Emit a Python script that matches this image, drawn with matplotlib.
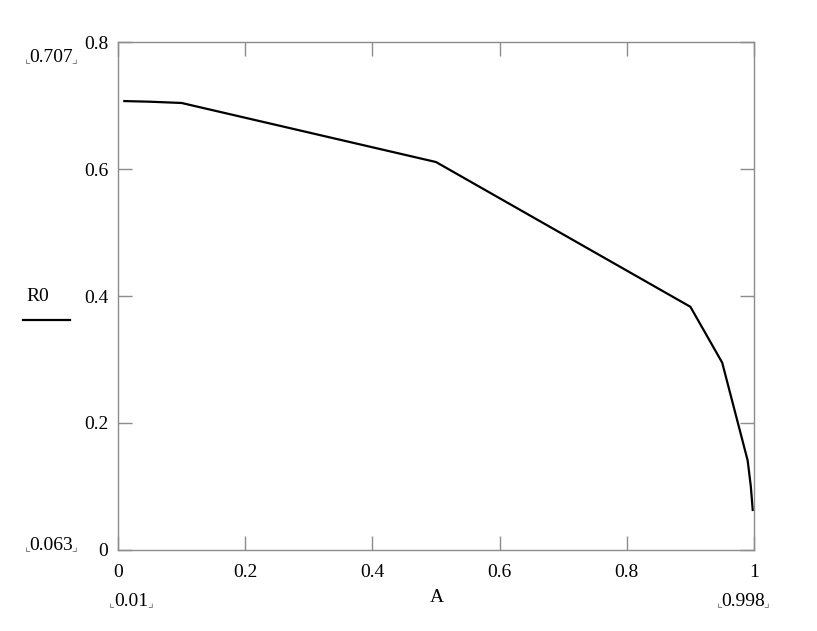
import matplotlib.pyplot as plt

# значення кривої R0(A)
A = [0.01, 0.05, 0.1, 0.5, 0.9, 0.95, 0.99, 0.995, 0.998]
R0 = [0.707, 0.706, 0.704, 0.611, 0.383, 0.295, 0.141, 0.1, 0.063]

x_ticks = [0, 0.2, 0.4, 0.6, 0.8, 1]
x_labels = ['0', '0.2', '0.4', '0.6', '0.8', '1']
y_ticks = [0, 0.2, 0.4, 0.6, 0.8]
y_labels = ['0', '0.2', '0.4', '0.6', '0.8']

plt.rcParams['font.family'] = ['Liberation Serif', 'DejaVu Sans']
grey = '#8c8c8c'

fig = plt.figure(figsize=(8.17, 6.31), dpi=100)
ax = fig.add_axes([0.1444, 0.1284, 0.7785, 0.805])

ax.plot(A, R0, color='black', lw=1.6)

ax.set_xlim(0, 1)
ax.set_ylim(0, 0.8)
ax.set_xticks(x_ticks)
ax.set_xticklabels(x_labels)
ax.set_yticks(y_ticks)
ax.set_yticklabels(y_labels)
ax.tick_params(direction='in', length=10, width=1, color=grey,
               top=True, right=True, labelsize=14)
ax.tick_params(axis='x', pad=10)
ax.tick_params(axis='y', pad=7)
for s in ax.spines.values():
    s.set_color(grey)
    s.set_linewidth(1)

# підписи в стилі Mathcad
fs = 14
renderer = fig.canvas.get_renderer()
cf = dict(fontsize=9, family=['DejaVu Sans'], color='#777777')
def corner_label(x, y, txt):
    t = fig.text(x, y, txt, ha='center', va='center', fontsize=fs)
    bb = t.get_window_extent(renderer).transformed(fig.transFigure.inverted())
    fig.text(bb.x0 - 0.002, y - 0.004, '\u231e', ha='center', va='center', **cf)
    fig.text(bb.x1 + 0.002, y - 0.004, '\u231f', ha='center', va='center', **cf)

corner_label(51 / 817, 1 - 57 / 631, '0.707')
corner_label(51 / 817, 1 - 545 / 631, '0.063')
corner_label(131 / 817, 1 - 601 / 631, '0.01')
corner_label(743 / 817, 1 - 601 / 631, '0.998')

fig.text(437 / 817, 1 - 597 / 631, 'A', ha='center', va='center', fontsize=fs)
fig.text(38 / 817, 1 - 297 / 631, 'R0', ha='center', va='center', fontsize=fs)
fig.add_artist(plt.Line2D([23 / 817, 70 / 817], [1 - 320 / 631, 1 - 320 / 631],
                          color='black', lw=1.6))

fig.savefig('out.png', dpi=100)
